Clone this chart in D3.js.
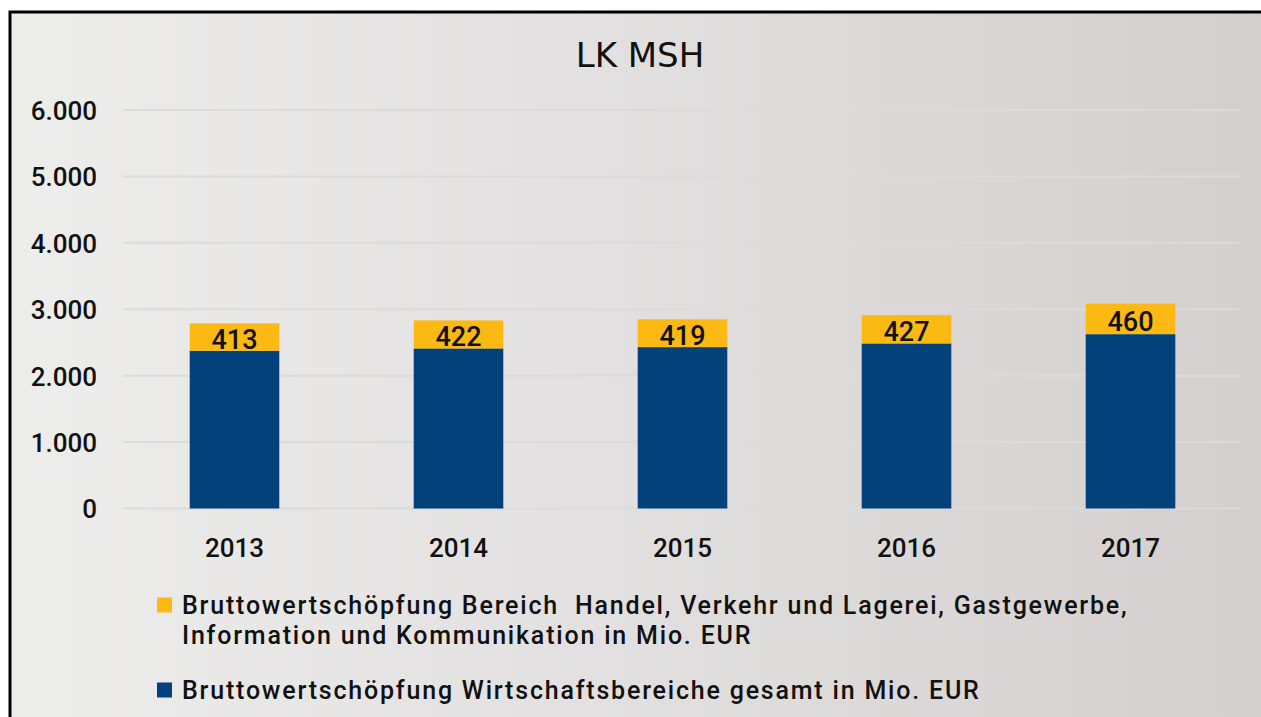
<!DOCTYPE html>
<html>
<head>
<meta charset="utf-8">
<script src="https://cdn.jsdelivr.net/npm/d3@7"></script>
<style>
  html, body { margin: 0; padding: 0; background: #ffffff; overflow: hidden; }
  svg { display: block; }
  text { font-family: Roboto, "Noto Sans", sans-serif; font-weight: 500; fill: #111; }
</style>
</head>
<body>
<svg id="chart" width="1261" height="717"></svg>
<script>
// Regional gross value added, LK MSH (Mio. EUR)
const years = ["2013", "2014", "2015", "2016", "2017"];
const totalValues = [2375, 2410, 2430, 2485, 2625];
const tradeValues = [413, 422, 419, 427, 460];
const yTicks = [0, 1000, 2000, 3000, 4000, 5000, 6000];
const legendLabels = [
  ["Bruttowertschöpfung Bereich  Handel, Verkehr und Lagerei, Gastgewerbe,",
   "Information und Kommunikation in Mio. EUR"],
  ["Bruttowertschöpfung Wirtschaftsbereiche gesamt in Mio. EUR"]
];
const colors = { total: "#03417a", trade: "#fdb913" };

const svg = d3.select("#chart");
const W = 1261, H = 717;
const FONT = "Roboto, 'Noto Sans', sans-serif";

// background panel with horizontal gradient and black frame
const defs = svg.append("defs");
const grad = defs.append("linearGradient").attr("id", "bg").attr("x1", 0).attr("x2", 1).attr("y1", 0).attr("y2", 0);
grad.append("stop").attr("offset", "0%").attr("stop-color", "#ededec");
grad.append("stop").attr("offset", "45%").attr("stop-color", "#e2e0e0");
grad.append("stop").attr("offset", "100%").attr("stop-color", "#d2cecd");

svg.append("rect").attr("x", 10).attr("y", 12).attr("width", W + 40).attr("height", H + 40)
  .attr("fill", "url(#bg)").attr("stroke", "#000").attr("stroke-width", 3);

const x = d3.scaleBand().domain(years).range([122.5, 1242.5]).paddingInner(0.6).paddingOuter(0.3);
const y = d3.scaleLinear().domain([0, 6000]).range([508.5, 110]);

// gridlines
svg.append("g").selectAll("line").data(yTicks).join("line")
  .attr("x1", 123).attr("x2", 1241)
  .attr("y1", d => y(d)).attr("y2", d => y(d))
  .attr("stroke", "#dcdbdb").attr("stroke-width", 2);

// y axis labels
const fmt = d3.formatLocale({ decimal: ",", thousands: ".", grouping: [3], currency: ["", " €"] }).format(",");
const yAxis = d3.axisLeft(y).tickValues(yTicks).tickFormat(fmt).tickSize(0).tickPadding(0);
const gy = svg.append("g").attr("transform", "translate(97,0)").call(yAxis);
gy.select(".domain").remove();
gy.selectAll("text").attr("font-size", 26).attr("fill", "#111").attr("dy", "0.36em")
  .style("font-family", FONT).style("font-weight", 500);

// x axis labels
const xAxis = d3.axisBottom(x).tickSize(0).tickPadding(0);
const gx = svg.append("g").attr("transform", "translate(0,539)").call(xAxis);
gx.select(".domain").remove();
gx.selectAll("text").attr("font-size", 26).attr("fill", "#111").attr("dy", "0.71em")
  .style("font-family", FONT).style("font-weight", 500);

// stacked bars
const rows = years.map((yr, i) => ({ year: yr, total: totalValues[i], trade: tradeValues[i] }));
const stack = d3.stack().keys(["total", "trade"])(rows);
svg.append("g").selectAll("g").data(stack).join("g")
  .attr("fill", d => colors[d.key])
  .selectAll("rect").data(d => d).join("rect")
  .attr("x", d => x(d.data.year))
  .attr("width", x.bandwidth())
  .attr("y", d => y(d[1]))
  .attr("height", d => y(d[0]) - y(d[1]));

// value labels on the trade segment
svg.append("g").selectAll("text").data(stack[1]).join("text")
  .attr("x", d => x(d.data.year) + x.bandwidth() / 2)
  .attr("y", d => (y(d[0]) + y(d[1])) / 2 + 2)
  .attr("text-anchor", "middle").attr("dy", "0.36em")
  .attr("font-size", 27).text(d => d.data.trade);

// title
svg.append("text").attr("x", 640).attr("y", 67).attr("text-anchor", "middle")
  .attr("font-size", 34).style("font-family", "'DejaVu Sans', sans-serif").style("font-weight", 400)
  .text("LK MSH");

// legend
const legend = svg.append("g");
const legendItems = [
  { color: colors.trade, lines: legendLabels[0], y0: 614 },
  { color: colors.total, lines: legendLabels[1], y0: 699 }
];
legendItems.forEach(item => {
  legend.append("rect").attr("x", 157).attr("y", item.y0 - 16.5).attr("width", 15).attr("height", 15)
    .attr("fill", item.color);
  item.lines.forEach((ln, j) => {
    legend.append("text").attr("x", 182).attr("y", item.y0 + j * 29.5)
      .attr("font-size", 25).attr("letter-spacing", 1.8)
      .style("white-space", "pre").attr("xml:space", "preserve").text(ln);
  });
});
</script>
</body>
</html>
